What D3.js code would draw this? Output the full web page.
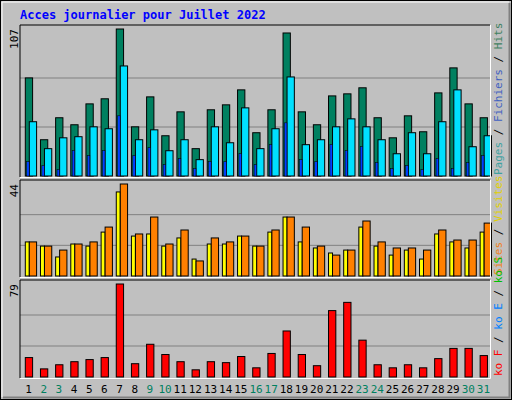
<!DOCTYPE html>
<html>
<head>
<meta charset="utf-8">
<script src="https://cdn.jsdelivr.net/npm/d3@7"></script>
<style>body{margin:0;background:#fff}</style>
</head>
<body>
<script>
// daily values
var days = d3.range(1, 32);
var weekend = [2, 3, 9, 10, 16, 17, 23, 24, 30, 31];
var hits = [71.4,26.4,42.4,37.3,52.5,56.2,107,35.8,57.6,29.3,46.7,19.9,48.2,51.8,62.7,31.5,48.2,104.1,46.7,37.3,58.3,59.8,64.2,42.4,27.8,43.8,32.2,60.5,78.7,52.5,42.4];
var files = [39.5,19.9,27.8,28.6,35.8,34.4,80.1,26.4,33.6,18.4,26.4,11.9,35.8,24.2,49.6,19.9,34.4,72.1,22.8,26.4,35.8,41.6,35.8,26.4,16.2,31.5,16.2,39.5,62.7,21.3,29.3];
var pages = [10.4,7.5,4.6,18.4,14.8,18.4,43.8,14.8,20.6,8.2,12.6,5.3,10.4,10.4,16.2,8.2,22.8,38.7,11.9,10.4,22.8,18.4,21.3,9.7,5.3,7.5,4.6,12.6,5.3,9.7,14.8];
var visits = [16.3,14.3,12.4,15.3,16.3,23.4,44,20.1,28.2,15.3,22,7.2,18.2,16.3,19.1,14.3,22,28.2,23.4,14.3,10,12.4,26.3,16.3,13.4,13.4,12.4,22,17.2,17.2,25.3];
var sites = [16.3,14.3,9.1,15.3,14.3,21,40.2,19.1,20.1,14.3,18.2,8.1,15.3,15.3,19.1,14.3,21,28.2,16.3,13.4,11,12.4,23.4,14.3,10,12.4,8.1,20.1,16.3,13.4,21];
var kb = [16.5,6.9,10.4,13,14.8,16.5,79,11.3,27.8,19.1,13,6.1,13,12.2,17.4,7.8,20,39.1,19.1,9.6,56.4,63.4,31.3,10.4,7.8,10.4,7.8,15.6,24.3,24.3,18.2];

var W = 512, H = 400, left = 20, right = 490;
var svg = d3.select("body").append("svg").attr("width", W).attr("height", H)
    .style("font-family", "'DejaVu Sans Mono', monospace");

// outer frame
svg.append("rect").attr("x", 0.5).attr("y", 0.5).attr("width", W - 1).attr("height", H - 1).attr("fill", "#c0c0c0").attr("stroke", "#000");
svg.append("path").attr("d", "M2,397V2H509").attr("fill", "none").attr("stroke", "#fff");
svg.append("path").attr("d", "M3,397.5H509.5V3").attr("fill", "none").attr("stroke", "#808080").attr("stroke-width", 2);

svg.append("text").attr("x", 20).attr("y", 19).attr("fill", "#0000ff")
    .style("font-weight", "bold").style("font-size", "12px").text("Acces journalier pour Juillet 2022");

var x = d3.scaleBand().domain(days).range([left, right]);

function panel(y0, y1, maxLabel, maxVal, series, legend) {
    var y = d3.scaleLinear().domain([0, maxVal]).range([y1 - 1, y0 + 4]);
    var g = svg.append("g");
    g.append("rect").attr("x", left).attr("y", y0).attr("width", right - left).attr("height", y1 - y0).attr("fill", "#c0c0c0");
    var step = (y1 - 1 - (y0 + 4)) / 3;
    [1, 2].forEach(function (i) {
        g.append("line").attr("x1", left).attr("x2", right)
            .attr("y1", y1 - 1 - i * step).attr("y2", y1 - 1 - i * step).attr("stroke", "#808080");
    });
    series.forEach(function (s) {
        g.selectAll(null).data(s.data).enter().append("rect")
            .attr("x", function (d, i) { return x(days[i]) + s.off; })
            .attr("width", s.w)
            .attr("y", function (d) { return y(d); })
            .attr("height", function (d) { return y(0) - y(d); })
            .attr("fill", s.color).attr("stroke", "#000").attr("stroke-width", s.w < 4 ? 0.5 : 1);
    });
    g.append("path").attr("d", "M" + left + "," + y1 + "V" + y0 + "H" + right).attr("fill", "none").attr("stroke", "#000");
    g.append("path").attr("d", "M" + left + "," + (y1 + 0.5) + "H" + (right + 0.5) + "V" + y0).attr("fill", "none").attr("stroke", "#fff");
    g.append("text").attr("transform", "translate(18," + (y0 + 4) + ") rotate(-90)")
        .attr("text-anchor", "end").style("font-size", "11px").attr("fill", "#000").text(maxLabel);
    var t = g.append("text").attr("transform", "translate(502," + (y1 - 2) + ") rotate(-90)")
        .style("font-size", "11px");
    legend.forEach(function (l) { t.append("tspan").attr("fill", l[1]).text(l[0]); });
}

panel(25, 177, "107", 107, [
    {data: hits, color: "#008060", off: 5.3, w: 7.3},
    {data: files, color: "#00e0ff", off: 9.3, w: 7.3},
    {data: pages, color: "#0040ff", off: 6.7, w: 2.5}
], [["Pages", "#40a0a0"], [" / ", "#000"], ["Fichiers", "#4060c0"], [" / ", "#000"], ["Hits", "#408060"]]);

panel(180, 277, "44", 44, [
    {data: sites, color: "#ffff00", off: 5.3, w: 4},
    {data: visits, color: "#ff8000", off: 9.3, w: 7.3}
], [["Sites", "#f08020"], [" / ", "#000"], ["Visites", "#e0d000"]]);

panel(280, 378, "79", 79, [
    {data: kb, color: "#ff0000", off: 5.3, w: 7.3}
], [["ko F", "#ff0000"], [" / ", "#000"], ["ko E", "#0080ff"], [" / ", "#000"], ["ko S", "#00c000"]]);

svg.selectAll(".day").data(days).enter().append("text")
    .attr("x", function (d) { return x(d) + x.bandwidth() / 2 + 1; })
    .attr("y", 393).attr("text-anchor", "middle").style("font-size", "11px")
    .attr("fill", function (d) { return weekend.indexOf(d) >= 0 ? "#008060" : "#000"; })
    .text(function (d) { return d; });
</script>
</body>
</html>
